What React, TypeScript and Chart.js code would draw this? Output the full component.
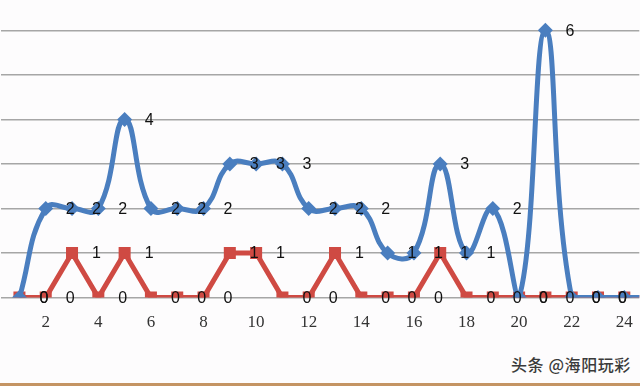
import React, { useEffect, useRef } from "react";
import { Chart, registerables } from "chart.js";

Chart.register(...registerables);

const positions = [1, 2, 3, 4, 5, 6, 7, 8, 9, 10, 11, 12, 13, 14, 15, 16, 17, 18, 19, 20, 21, 22, 23, 24, 25];
const blueValues = [0, 2, 2, 2, 4, 2, 2, 2, 3, 3, 3, 2, 2, 2, 1, 1, 3, 1, 2, 0, 6, 0, 0, 0, 0];
const redValues = [0, 0, 1, 0, 1, 0, 0, 0, 1, 1, 0, 0, 1, 0, 0, 0, 1, 0, 0, 0, 0, 0, 0, 0, 0];
const xTickValues = [2, 4, 6, 8, 10, 12, 14, 16, 18, 20, 22, 24];
const yTickValues = [0, 1, 2, 3, 4, 5, 6];

const BLUE = "#4a7ebf";
const RED = "#cf4a43";

const labelPlugin = {
  id: "pointLabels",
  afterDatasetsDraw(chart: any) {
    const ctx = chart.ctx;
    ctx.save();
    ctx.font = "16px 'Liberation Sans', sans-serif";
    ctx.fillStyle = "#111";
    ctx.textAlign = "left";
    ctx.textBaseline = "middle";
    chart.data.datasets.forEach((ds: any, i: number) => {
      const meta = chart.getDatasetMeta(i);
      meta.data.forEach((pt: any, j: number) => {
        const v = ds.data[j].y;
        ctx.fillText(String(v), pt.x + 20, pt.y + 1);
      });
    });
    ctx.restore();
  },
};

export default function App() {
  const ref = useRef<HTMLCanvasElement>(null);
  useEffect(() => {
    if (!ref.current) return;
    const chart = new Chart(ref.current, {
      type: "line",
      data: {
        datasets: [
          {
            label: "blue",
            data: positions.map((x, i) => ({ x, y: blueValues[i] })),
            borderColor: BLUE,
            backgroundColor: BLUE,
            borderWidth: 5,
            tension: 0.45,
            pointStyle: "rectRot",
            pointRadius: 7.5,
            pointBorderWidth: 0,
            order: 0,
          },
          {
            label: "red",
            data: positions.map((x, i) => ({ x, y: redValues[i] })),
            borderColor: RED,
            backgroundColor: RED,
            borderWidth: 5,
            tension: 0,
            pointStyle: "rect",
            pointRadius: 8.5,
            pointBorderWidth: 0,
            order: 1,
          },
        ],
      },
      options: {
        animation: false,
        responsive: false,
        layout: { padding: 0 },
        plugins: { legend: { display: false }, tooltip: { enabled: false } },
        scales: {
          x: {
            type: "linear",
            min: 0.28,
            max: 24.57,
            afterBuildTicks: (s: any) => {
              s.ticks = xTickValues.map((v) => ({ value: v }));
            },
            grid: { display: false, drawTicks: false },
            border: { display: false },
            ticks: {
              padding: 15,
              color: "#333",
              font: { family: "'Liberation Serif', serif", size: 17 },
              maxRotation: 0,
              autoSkip: false,
            },
          },
          y: {
            min: 0,
            max: 6.67,
            afterBuildTicks: (s: any) => {
              s.ticks = yTickValues.map((v) => ({ value: v }));
            },
            grid: { color: "#a6a6a6", lineWidth: 1.5, drawTicks: false },
            border: { display: false },
            ticks: { display: false },
          },
        },
      },
      plugins: [labelPlugin],
    });
    return () => chart.destroy();
  }, []);

  return (
    <div
      style={{
        position: "fixed",
        left: 0,
        top: 0,
        width: 640,
        height: 386,
        background: "#fdfcfd",
        overflow: "hidden",
      }}
    >
      <canvas
        ref={ref}
        width={656}
        height={356}
        style={{ display: "block", position: "absolute", left: -8, top: -8 }}
      />
      <div
        style={{
          position: "absolute",
          left: 511,
          top: 352,
          fontFamily: "'Noto Sans CJK SC', sans-serif",
          fontSize: 16,
          fontWeight: 500,
          letterSpacing: 0.6,
          color: "#3a3a3a",
          textShadow: "0 0 2px #fff, 0 0 2px #fff",
          whiteSpace: "nowrap",
        }}
      >
        头条 @海阳玩彩
      </div>
      <div
        style={{
          position: "absolute",
          left: 0,
          bottom: 0,
          width: 640,
          height: 3,
          background: "#c49463",
        }}
      />
    </div>
  );
}
